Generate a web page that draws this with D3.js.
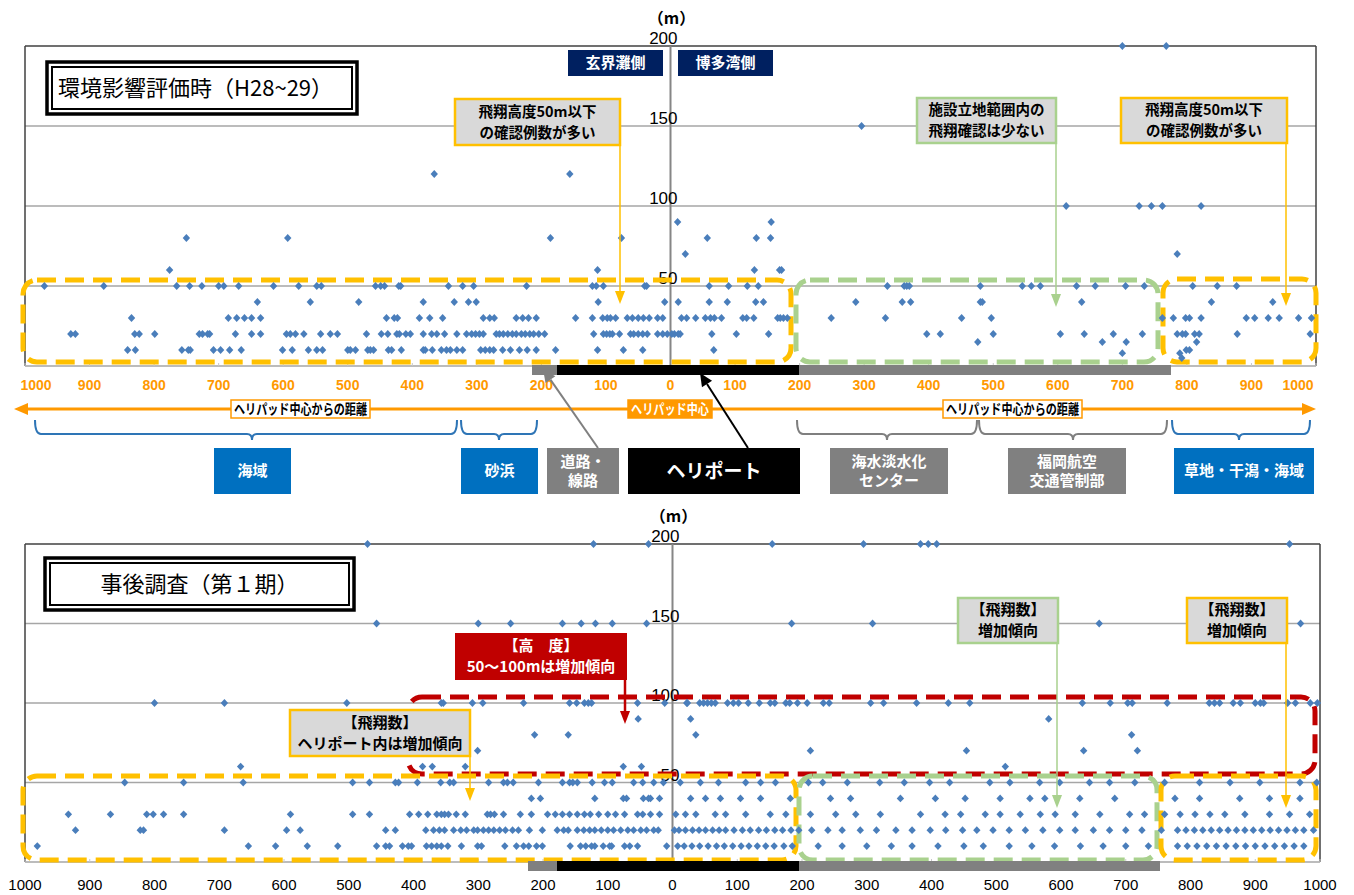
<!DOCTYPE html>
<html>
<head>
<meta charset="utf-8">
<script src="https://cdn.jsdelivr.net/npm/d3@7"></script>
<style>
  body { margin: 0; background: #fff; }
  svg { display: block; }
</style>
</head>
<body>
<svg id="chart" width="1354" height="895"></svg>
<script>
// ---- data: [height (m), distances from helipad centre (m, negative = 玄界灘側)] ----
const envRows = [
  [5,   [792]],
  [8,   [700, 789]],
  [10,  [-841,-829,-757,-747,-744,-708,-697,-683,-665,-601,-586,-561,-548,-539,-500,-496,-488,-469,-465,-460,-437,-432,-417,-383,-380,-369,-355,-347,-341,-331,-322,-294,-287,-280,-274,-260,-248,-234,-222,-208,-178,-113,-73,-43,67,799,804]],
  [15,  [476, 669, 706, 815]],
  [20,  [-929,-922,-830,-823,-799,-730,-725,-717,-714,-674,-649,-635,-595,-589,-581,-568,-542,-527,-516,-471,-448,-438,-424,-420,-410,-403,-383,-370,-362,-350,-331,-316,-308,-302,-296,-290,-270,-265,-259,-252,-245,-239,-231,-225,-218,-212,-204,-195,-119,-104,-99,-94,-90,-79,-62,-57,-50,-43,-36,-20,-12,-5,2,6,12,15,64,102,152,397,418,500,604,641,686,731,785,793,798,812,819,878,991]],
  [30,  [-835,-685,-672,-660,-649,-635,-440,-428,-423,-389,-373,-353,-290,-280,-273,-239,-229,-220,-208,-147,-121,-105,-98,-93,-85,-67,-59,-50,-42,-33,-20,-12,17,25,39,54,62,68,79,112,118,129,166,170,175,181,249,333,451,497,762,779,798,804,822,892,905,926,943,973,993]],
  [40,  [-640,-558,-483,-383,-335,-313,-301,-112,-9,12,60,88,132,144,287,359,372,480,483,637,838,933]],
  [50,  [-970,-878,-765,-745,-726,-700,-692,-669,-615,-576,-548,-541,-457,-449,-443,-421,-418,-344,-322,-305,-223,-121,-115,-104,-40,-37,60,90,119,136,336,362,366,370,480,545,559,573,629,658,705,734,809,847,877]],
  [60,  [-776,-113,130,169,172]],
  [70,  [23, 785]],
  [80,  [-750,-593,-186,-76,57,133,155]],
  [90,  [11, 156]],
  [100, [613, 726, 745, 762, 822]],
  [120, [-366, -156]],
  [150, [296]],
  [200, [700, 768]]
];

const postRows = [
  [10,  [-981,-655,-613,-564,-517,-457,-443,-437,-417,-408,-403,-380,-372,-364,-357,-347,-326,-301,-295,-259,-241,-230,-222,-210,-201,-158,-142,-134,-125,-120,-107,-97,-94,-74,-66,-54,-9,8,18,30,42,55,68,80,93,106,118,131,144,157,172,185,225,262,300,338,370,410,450,480,520,555,590,630,665,700,735,780,795,810,825,840,855,870,885,900,915,930,945,960,975]],
  [20,  [-922,-822,-817,-692,-596,-575,-443,-428,-381,-369,-360,-352,-338,-327,-318,-307,-301,-292,-284,-276,-267,-258,-247,-238,-221,-201,-178,-168,-161,-147,-137,-128,-120,-110,-100,-91,-80,-69,-60,-49,-40,-29,-22,3,10,20,31,41,51,62,72,82,95,108,120,133,145,158,170,183,195,215,240,262,290,315,345,370,398,422,448,470,495,520,545,572,598,622,650,675,700,725,755,780,793,806,819,832,845,858,871,884,897,910,923,936,949,962,975,990]],
  [30,  [-933,-868,-812,-802,-786,-755,-590,-494,-468,-406,-392,-378,-364,-357,-352,-346,-334,-320,-286,-281,-275,-261,-235,-218,-193,-181,-170,-159,-147,-136,-127,-114,-100,-88,-74,-54,-46,-34,-20,5,20,36,66,82,113,151,175,213,252,283,321,383,421,445,483,506,537,568,591,622,660,706,729,760,784,807,830,853,884,922,953,984]],
  [40,  [-218,-204,-120,-76,-71,-45,-37,-34,-20,28,51,74,105,136,182,244,275,352,406,452,506,552,575,629,683,776,814,876,922,969]],
  [50,  [-846,-755,-663,-494,-468,-428,-423,-394,-358,-344,-338,-284,-261,-255,-246,-207,-170,-159,-154,-147,-124,-105,-93,-60,-46,-29,-14,12,43,71,113,136,159,210,232,270,320,358,397,428,490,521,567,598,644,675,714,760,814,861,907,969,995]],
  [60,  [-667,-386,-371,-320,-76,-48,514]],
  [70,  [-301,213,454,635,718]],
  [80,  [-213,-161,36,709]],
  [90,  [-53,28,581]],
  [100, [-800,-692,-503,-357,-354,-309,-293,-230,-159,-148,-136,-130,-125,-54,-12,22,23,42,48,54,60,66,85,94,102,117,134,151,158,175,181,193,208,233,242,306,326,377,426,459,633,676,703,710,764,829,837,845,866,877,900,908,913,950,962,985,996]],
  [150, [-457,-300,-250,-170,-141,-119,-93,-40,184,309,659,970]],
  [200, [-471,-122,-37,154,295,383,395,408,953]]
];

const yTicks = [50, 100, 150, 200];
const xTicks = d3.range(-1000, 1001, 100);

// ---- helpers ----
const svg = d3.select('#chart');
const jp = "'Noto Sans CJK JP', 'Noto Sans', sans-serif";
const num = "'Liberation Sans', Arial, sans-serif";
const blue = '#4A7EBB', orange = '#FFC000', green = '#A9D18E', red = '#C00000';

function flatten(rows) {
  const out = [];
  rows.forEach(function(r) { r[1].forEach(function(d) { out.push({h: r[0], d: d}); }); });
  return out;
}

function arrowDown(g, x, y1, y2, color, w) {
  g.append('line').attr('x1', x).attr('x2', x).attr('y1', y1).attr('y2', y2 - 10)
    .attr('stroke', color).attr('stroke-width', w);
  g.append('path').attr('d', 'M' + (x - 5) + ',' + (y2 - 13) + 'L' + (x + 5) + ',' + (y2 - 13) + 'L' + x + ',' + y2 + 'Z')
    .attr('fill', color);
}

function arrowTo(g, x1, y1, x2, y2, color) {
  const a = Math.atan2(y2 - y1, x2 - x1);
  const L = 13, W = 6;
  const bx = x2 - L * Math.cos(a), by = y2 - L * Math.sin(a);
  g.append('line').attr('x1', x1).attr('y1', y1).attr('x2', bx).attr('y2', by)
    .attr('stroke', color).attr('stroke-width', 2);
  g.append('path').attr('d', 'M' + x2 + ',' + y2 +
      'L' + (bx + W * Math.sin(a)) + ',' + (by - W * Math.cos(a)) +
      'L' + (bx - W * Math.sin(a)) + ',' + (by + W * Math.cos(a)) + 'Z')
    .attr('fill', color);
}

function box(g, o) {
  g.append('rect').attr('x', o.x).attr('y', o.y).attr('width', o.w).attr('height', o.h)
    .attr('fill', o.fill).attr('stroke', o.stroke || 'none').attr('stroke-width', o.sw || 0);
  const n = o.lines.length, lh = o.lh || 21;
  o.lines.forEach(function(t, i) {
    g.append('text').attr('x', o.x + o.w / 2)
      .attr('y', o.y + o.h / 2 + (i - (n - 1) / 2) * lh)
      .attr('dy', '0.36em').attr('text-anchor', 'middle')
      .attr('font-family', jp).attr('font-weight', 700).attr('font-size', o.fs || 14)
      .attr('fill', o.color || '#000').text(t);
  });
}

function dashedRect(g, x, y, w, h, color) {
  g.append('rect').attr('x', x).attr('y', y).attr('width', w).attr('height', h)
    .attr('rx', 14).attr('ry', 14).attr('fill', 'none')
    .attr('stroke', color).attr('stroke-width', 5).attr('stroke-dasharray', '19,9');
}

function titleBox(g, x, y, w, h, text, anchor) {
  g.append('rect').attr('x', x).attr('y', y).attr('width', w).attr('height', h)
    .attr('fill', '#fff').attr('stroke', '#000').attr('stroke-width', 3.5);
  g.append('rect').attr('x', x + 5).attr('y', y + 5).attr('width', w - 10).attr('height', h - 10)
    .attr('fill', 'none').attr('stroke', '#000').attr('stroke-width', 2);
  g.append('text').attr('x', anchor === 'middle' ? x + w / 2 : x + 11).attr('y', y + h / 2)
    .attr('dy', '0.36em').attr('text-anchor', anchor)
    .attr('font-family', jp).attr('font-size', 22).text(text);
}

function panel(cfg) {
  const x = d3.scaleLinear().domain([-1000, 1000]).range([cfg.left, cfg.right]);
  const y = d3.scaleLinear().domain([0, 200]).range([cfg.bottom, cfg.top]);
  const g = svg.append('g');

  // grid
  g.selectAll('.grid').data(yTicks.filter(function(t) { return t < 200; })).enter()
    .append('line').attr('x1', cfg.left).attr('x2', cfg.right)
    .attr('y1', function(d) { return y(d); }).attr('y2', function(d) { return y(d); })
    .attr('stroke', '#A6A6A6').attr('stroke-width', 1.5);
  // frame
  g.append('line').attr('x1', cfg.left).attr('x2', cfg.right).attr('y1', y(200)).attr('y2', y(200))
    .attr('stroke', '#404040').attr('stroke-width', 1.5);
  g.append('line').attr('x1', cfg.left).attr('x2', cfg.left).attr('y1', y(200)).attr('y2', y(0))
    .attr('stroke', '#404040').attr('stroke-width', 1.5);
  g.append('line').attr('x1', cfg.right).attr('x2', cfg.right).attr('y1', y(200)).attr('y2', y(0))
    .attr('stroke', '#404040').attr('stroke-width', 1.5);
  g.append('line').attr('x1', cfg.left).attr('x2', cfg.right).attr('y1', y(0)).attr('y2', y(0))
    .attr('stroke', '#A6A6A6').attr('stroke-width', 1.5);
  g.selectAll('.tk').data(xTicks).enter().append('line')
    .attr('x1', function(d) { return x(d); }).attr('x2', function(d) { return x(d); })
    .attr('y1', y(0) - 3).attr('y2', y(0)).attr('stroke', '#C8C8C8');
  // centre axis
  g.append('line').attr('x1', x(0)).attr('x2', x(0)).attr('y1', y(200)).attr('y2', y(0))
    .attr('stroke', '#868686').attr('stroke-width', 2);

  // y labels
  g.selectAll('.yl').data(yTicks).enter().append('text')
    .attr('x', x(0) + 7).attr('y', function(d) { return y(d) - 2; })
    .attr('text-anchor', 'end').attr('font-family', num).attr('font-size', 17)
    .text(function(d) { return d; });
  g.append('text').attr('x', x(0) + 1).attr('y', y(200) - 22).attr('text-anchor', 'middle')
    .attr('font-family', jp).attr('font-weight', 700).attr('font-size', 16).text('（m）');

  cfg.extras(g, x, y);

  // points
  g.selectAll('.pt').data(flatten(cfg.rows)).enter().append('path')
    .attr('d', 'M0,-3.9L3.7,0L0,3.9L-3.7,0Z')
    .attr('transform', function(p) { return 'translate(' + x(p.d) + ',' + y(p.h) + ')'; })
    .attr('fill', blue);

  cfg.over(g, x, y);

  // ground bar
  const bar = [[cfg.barL, 557, '#808080'], [557, 799, '#000'], [799, cfg.barR, '#808080']];
  g.selectAll('.bar').data(bar).enter().append('rect')
    .attr('x', function(d) { return d[0]; }).attr('width', function(d) { return d[1] - d[0]; })
    .attr('y', y(0) - 1).attr('height', 10).attr('fill', function(d) { return d[2]; });

  // x labels
  g.selectAll('.xl').data(xTicks).enter().append('text')
    .attr('x', function(d) { return x(d) + (cfg.endShift ? (d === -1000 ? 11 : d === 1000 ? -18 : 0) : 0); })
    .attr('y', cfg.labelY).attr('text-anchor', 'middle')
    .attr('font-family', num).attr('font-size', cfg.labelSize)
    .attr('font-weight', cfg.labelWeight).attr('fill', cfg.labelColor)
    .text(function(d) { return Math.abs(d); });
  return {x: x, y: y};
}

// ---- top panel: 環境影響評価時 ----
panel({
  left: 25, right: 1316, top: 46, bottom: 366, rows: envRows,
  barL: 532, barR: 1171, labelY: 390, labelSize: 14, labelWeight: 700, labelColor: '#FF9900', endShift: true,
  extras: function(g) {
    dashedRect(g, 23, 280, 768, 82, orange);
    dashedRect(g, 796, 280, 362, 82, green);
    dashedRect(g, 1163, 279, 153, 83, orange);
  },
  over: function(g) {
    titleBox(g, 47, 62, 310, 52, '環境影響評価時（H28~29）', 'start');
    box(g, {x: 568, y: 50, w: 95, h: 26, fill: '#002060', color: '#fff', lines: ['玄界灘側'], fs: 15});
    box(g, {x: 678, y: 50, w: 95, h: 26, fill: '#002060', color: '#fff', lines: ['博多湾側'], fs: 15});
    box(g, {x: 455, y: 99, w: 165, h: 46, fill: '#D9D9D9', stroke: orange, sw: 2.5, lines: ['飛翔高度50m以下', 'の確認例数が多い'], fs: 14.5});
    arrowDown(g, 620, 145, 304, orange, 1.5);
    box(g, {x: 917, y: 98, w: 139, h: 45, fill: '#D9D9D9', stroke: green, sw: 2.5, lines: ['施設立地範囲内の', '飛翔確認は少ない'], fs: 14.5});
    arrowDown(g, 1056, 143, 307, green, 1.5);
    box(g, {x: 1121, y: 98, w: 166, h: 45, fill: '#D9D9D9', stroke: orange, sw: 2.5, lines: ['飛翔高度50m以下', 'の確認例数が多い'], fs: 14.5});
    arrowDown(g, 1286, 143, 306, orange, 1.5);
  }
});

// ---- legend strip between panels ----
const mid = svg.append('g');
const ay = 409;
mid.append('line').attr('x1', 26).attr('x2', 1304).attr('y1', ay).attr('y2', ay)
  .attr('stroke', '#FF9900').attr('stroke-width', 3);
mid.append('path').attr('d', 'M14,' + ay + 'L28,' + (ay - 6) + 'L28,' + (ay + 6) + 'Z').attr('fill', '#FF9900');
mid.append('path').attr('d', 'M1316,' + ay + 'L1302,' + (ay - 6) + 'L1302,' + (ay + 6) + 'Z').attr('fill', '#FF9900');

function distLabel(x, w, t, filled) {
  mid.append('rect').attr('x', x).attr('y', ay - 9).attr('width', w).attr('height', 18)
    .attr('fill', filled ? '#FF9900' : '#fff').attr('stroke', '#FF9900').attr('stroke-width', 1.5);
  mid.append('text').attr('x', x + w / 2).attr('y', ay).attr('dy', '0.36em').attr('text-anchor', 'middle')
    .attr('font-family', jp).attr('font-weight', 700).attr('font-size', 14)
    .attr('textLength', w - 6).attr('lengthAdjust', 'spacingAndGlyphs')
    .attr('fill', filled ? '#fff' : '#000').text(t);
}
distLabel(231, 139, 'ヘリパッド中心からの距離', false);
distLabel(628, 84, 'ヘリパッド中心', true);
distLabel(943, 139, 'ヘリパッド中心からの距離', false);

function brace(x0, x1, xm, color) {
  const t = 420, m = 434, b = 440;
  mid.append('path').attr('fill', 'none').attr('stroke', color).attr('stroke-width', 2)
    .attr('d', 'M' + x0 + ',' + t + 'Q' + x0 + ',' + m + ' ' + (x0 + 6) + ',' + m +
      'L' + (xm - 5) + ',' + m + 'Q' + xm + ',' + m + ' ' + xm + ',' + b +
      'Q' + xm + ',' + m + ' ' + (xm + 5) + ',' + m +
      'L' + (x1 - 6) + ',' + m + 'Q' + x1 + ',' + m + ' ' + x1 + ',' + t);
}
brace(35, 457, 252, '#2E75B6');
brace(461, 537, 499, '#2E75B6');
brace(797, 977, 887, '#7F7F7F');
brace(979, 1167, 1073, '#7F7F7F');
brace(1172, 1310, 1239, '#2E75B6');

box(mid, {x: 214, y: 448, w: 77, h: 46, fill: '#0070C0', color: '#fff', lines: ['海域'], fs: 15});
box(mid, {x: 461, y: 448, w: 77, h: 46, fill: '#0070C0', color: '#fff', lines: ['砂浜'], fs: 15});
box(mid, {x: 547, y: 448, w: 72, h: 46, fill: '#808080', color: '#fff', lines: ['道路・', '線路'], fs: 15, lh: 19});
box(mid, {x: 628, y: 448, w: 172, h: 46, fill: '#000', color: '#fff', lines: ['ヘリポート'], fs: 19});
box(mid, {x: 830, y: 448, w: 118, h: 46, fill: '#808080', color: '#fff', lines: ['海水淡水化', 'センター'], fs: 15, lh: 19});
box(mid, {x: 1008, y: 448, w: 118, h: 46, fill: '#808080', color: '#fff', lines: ['福岡航空', '交通管制部'], fs: 15, lh: 19});
box(mid, {x: 1174, y: 448, w: 140, h: 46, fill: '#0070C0', color: '#fff', lines: ['草地・干潟・海域'], fs: 15});
arrowTo(mid, 598, 448, 543, 369, '#808080');
arrowTo(mid, 748, 448, 700, 373, '#000');

// ---- bottom panel: 事後調査 ----
panel({
  left: 25, right: 1320, top: 544, bottom: 862, rows: postRows,
  barL: 528, barR: 1160, labelY: 890, labelSize: 15, labelWeight: 400, labelColor: '#000', endShift: false,
  extras: function(g) {
    dashedRect(g, 408, 697, 907, 77, red);
    dashedRect(g, 23, 776, 773, 84, orange);
    dashedRect(g, 799, 776, 358, 84, green);
    dashedRect(g, 1161, 776, 155, 84, orange);
  },
  over: function(g) {
    titleBox(g, 45, 558, 309, 52, '事後調査（第１期）', 'middle');
    box(g, {x: 958, y: 598, w: 100, h: 45, fill: '#D9D9D9', stroke: green, sw: 2.5, lines: ['【飛翔数】', '増加傾向'], fs: 15});
    arrowDown(g, 1057, 643, 808, green, 1.5);
    box(g, {x: 1187, y: 598, w: 100, h: 45, fill: '#D9D9D9', stroke: orange, sw: 2.5, lines: ['【飛翔数】', '増加傾向'], fs: 15});
    arrowDown(g, 1286, 643, 808, orange, 1.5);
    box(g, {x: 455, y: 633, w: 172, h: 47, fill: red, color: '#fff', lines: ['【高　度】', '50～100mは増加傾向'], fs: 15});
    arrowDown(g, 625, 680, 724, red, 2.5);
    box(g, {x: 290, y: 710, w: 180, h: 46, fill: '#D9D9D9', stroke: orange, sw: 2.5, lines: ['【飛翔数】', 'ヘリポート内は増加傾向'], fs: 15});
    arrowDown(g, 470, 756, 801, orange, 1.5);
  }
});
</script>
</body>
</html>
